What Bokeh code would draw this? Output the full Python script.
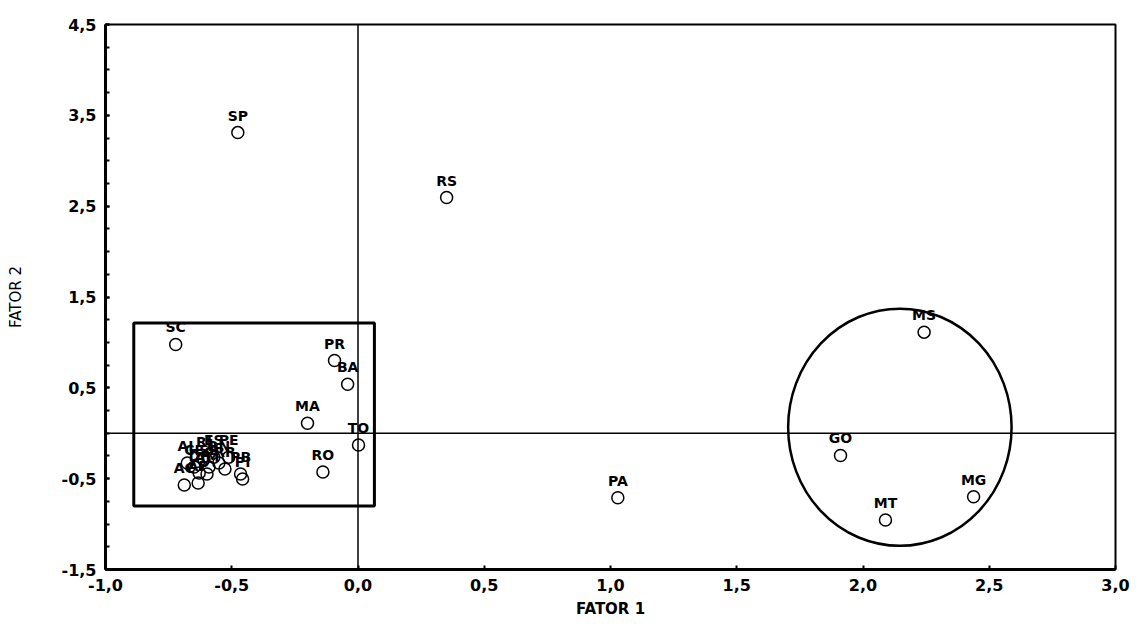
from bokeh.plotting import figure
from bokeh.models import ColumnDataSource, FixedTicker, Span
from bokeh.embed import file_html
from bokeh.resources import INLINE
from bokeh.core.properties import value

# ---- data ----
states = ["SP", "RS", "SC", "PR", "BA", "MA", "TO", "RO", "PA", "MS", "GO", "MG", "MT",
          "AC", "AP", "AM", "RR", "PI", "AL", "RJ", "ES", "CE", "PE", "SE", "PB", "RN", "DF"]
fator1 = [-0.476, 0.351, -0.722, -0.093, -0.041, -0.200, 0.002, -0.139, 1.029, 2.242, 1.911, 2.438, 2.089,
          -0.688, -0.633, -0.598, -0.527, -0.457, -0.676, -0.610, -0.571, -0.649, -0.512, -0.590, -0.465, -0.551, -0.629]
fator2 = [3.31, 2.595, 0.978, 0.80, 0.54, 0.11, -0.13, -0.427, -0.71, 1.113, -0.244, -0.70, -0.956,
          -0.569, -0.547, -0.449, -0.394, -0.504, -0.328, -0.285, -0.263, -0.372, -0.263, -0.372, -0.449, -0.328, -0.438]

x_ticks = [-1.0, -0.5, 0.0, 0.5, 1.0, 1.5, 2.0, 2.5, 3.0]
x_tick_labels = ["-1,0", "-0,5", "0,0", "0,5", "1,0", "1,5", "2,0", "2,5", "3,0"]
y_ticks = [-1.5, -0.5, 0.5, 1.5, 2.5, 3.5, 4.5]
y_tick_labels = ["-1,5", "-0,5", "0,5", "1,5", "2,5", "3,5", "4,5"]
y_minor = [-1.5 + 0.25 * i for i in range(25)]

# grouping shapes (data units)
box_left, box_right, box_bottom, box_top = [-0.888], [0.065], [-0.80], [1.215]
ell_x, ell_y, ell_w, ell_h = [2.146], [0.066], [0.885], [2.613]

src = ColumnDataSource(dict(x=fator1, y=fator2, label=states))

p = figure(width=1130, height=621, output_backend="svg", toolbar_location=None,
           x_range=(-1.0, 3.0), y_range=(-1.5, 4.5),
           min_border_left=105, min_border_right=15, min_border_top=24, min_border_bottom=52)
p.background_fill_color = "white"
p.border_fill_color = "white"
p.xgrid.visible = False
p.ygrid.visible = False
p.outline_line_color = "black"
p.outline_line_width = 2

FONT = "DejaVu Sans"

# axes
p.xaxis.ticker = FixedTicker(ticks=x_ticks, minor_ticks=[])
p.xaxis.major_label_overrides = {t: l for t, l in zip(x_ticks, x_tick_labels)}
p.yaxis.ticker = FixedTicker(ticks=y_ticks, minor_ticks=y_minor)
p.yaxis.major_label_overrides = {t: l for t, l in zip(y_ticks, y_tick_labels)}
for ax in (p.xaxis[0], p.yaxis[0]):
    ax.axis_line_width = 3
    ax.axis_line_color = "black"
    ax.major_tick_in = 4
    ax.major_tick_out = 0
    ax.minor_tick_in = 4
    ax.minor_tick_out = 0
    ax.major_tick_line_width = 2
    ax.minor_tick_line_width = 2
    ax.major_label_text_font = FONT
    ax.major_label_text_font_style = "bold"
    ax.major_label_text_font_size = "16px"
    ax.major_label_text_color = "black"
    ax.axis_label_text_font = FONT
    ax.axis_label_text_font_size = "15px"
    ax.axis_label_text_color = "black"
p.xaxis.major_label_standoff = 9
p.yaxis.major_label_standoff = 9
p.xaxis.axis_label = "FATOR 1"
p.xaxis.axis_label_text_font_style = "bold"
p.xaxis.axis_label_standoff = 6
p.yaxis.axis_label = "FATOR 2"
p.yaxis.axis_label_text_font_style = "normal"
p.yaxis.axis_label_standoff = 34

# reference lines at zero
p.add_layout(Span(location=0, dimension="width", line_color="black", line_width=1.5))
p.add_layout(Span(location=0, dimension="height", line_color="black", line_width=1.5))

# grouping rectangle and ellipse
p.quad(left=box_left, right=box_right, bottom=box_bottom, top=box_top,
       fill_color=None, line_color="black", line_width=3)
p.ellipse(x=ell_x, y=ell_y, width=ell_w, height=ell_h,
          fill_color=None, line_color="black", line_width=2.5)

# points and labels
p.scatter("x", "y", source=src, marker="circle", size=12,
          fill_color="white", fill_alpha=0.0, line_color="black", line_width=1.5)
p.text("x", "y", text="label", source=src, text_align="center", text_baseline="bottom",
       y_offset=-9, text_font=value(FONT), text_font_style="bold", text_font_size="14px",
       text_color="black")

open("out.html", "w").write(file_html(p, INLINE))
